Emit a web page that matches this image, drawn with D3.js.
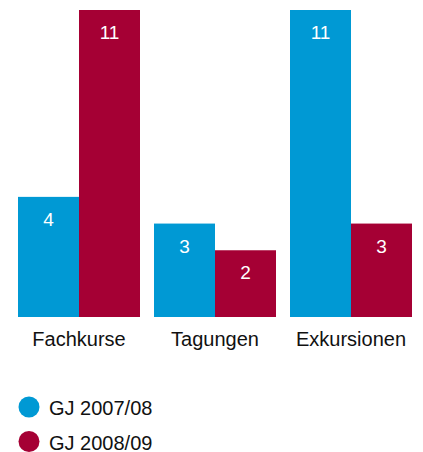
<!DOCTYPE html>
<html><head><meta charset="utf-8">
<script src="https://cdn.jsdelivr.net/npm/d3@7"></script>
<style>body{margin:0;background:#fff}svg{display:block;font-family:"Liberation Sans",Arial,Helvetica,sans-serif}</style>
</head><body>
<script>
const categories = ["Fachkurse", "Tagungen", "Exkursionen"];
const seriesNames = ["GJ 2007/08", "GJ 2008/09"];
const values0708 = [4, 3, 11];
const values0809 = [11, 2, 3];
const colors = ["#0099d4", "#a50034"];

const W = 423, H = 452;
const svg = d3.select("body").append("svg").attr("width", W).attr("height", H);

const x0 = d3.scaleBand().domain(categories).range([18, 412]).paddingInner(14/136).paddingOuter(0);
const x1 = d3.scaleBand().domain(seriesNames).range([0, x0.bandwidth()]).padding(0);
const y = d3.scaleLinear().domain([-0.5, 11]).range([317, 10]);
const color = d3.scaleOrdinal().domain(seriesNames).range(colors);

const data = categories.map((c, i) => ({cat: c, vals: [
  {s: seriesNames[0], v: values0708[i]},
  {s: seriesNames[1], v: values0809[i]}
]}));

const g = svg.selectAll("g.grp").data(data).join("g")
  .attr("class", "grp")
  .attr("transform", d => `translate(${x0(d.cat)},0)`);

g.selectAll("rect").data(d => d.vals).join("rect")
  .attr("x", d => x1(d.s))
  .attr("width", x1.bandwidth())
  .attr("y", d => y(d.v))
  .attr("height", d => y.range()[0] - y(d.v))
  .attr("fill", d => color(d.s));

g.selectAll("text.val").data(d => d.vals).join("text")
  .attr("class", "val")
  .attr("x", d => x1(d.s) + x1.bandwidth()/2)
  .attr("y", d => y(d.v) + 29)
  .attr("text-anchor", "middle")
  .attr("fill", "#fff")
  .attr("font-size", 19)
  .text(d => d.v);

// category axis
const xAxis = d3.axisBottom(x0).tickSize(0).tickPadding(0);
const ax = svg.append("g").attr("transform", "translate(0,317)").call(xAxis);
ax.select(".domain").remove();
ax.selectAll("text")
  .attr("font-size", 20)
  .attr("fill", "#111")
  .attr("dy", null)
  .attr("y", 29)
  .style("font-family", '"Liberation Sans",Arial,Helvetica,sans-serif');

// legend
const leg = svg.selectAll("g.leg").data(seriesNames).join("g")
  .attr("class", "leg")
  .attr("transform", (d, i) => `translate(0,${407 + i*34.5})`);
leg.append("circle").attr("cx", 29).attr("cy", 0).attr("r", 10.5).attr("fill", d => color(d));
leg.append("text").attr("x", 49).attr("y", 8).attr("font-size", 20).attr("fill", "#111").text(d => d);
</script>
</body></html>
